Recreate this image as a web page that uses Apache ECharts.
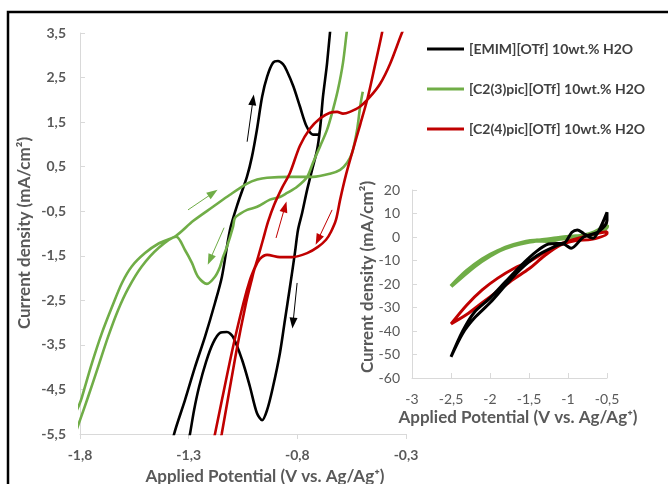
<!DOCTYPE html>
<html lang="en">
<head>
<meta charset="UTF-8">
<title>CV chart</title>
<script src="https://cdn.jsdelivr.net/npm/echarts@6/dist/echarts.min.js"></script>
<style>
  html, body { margin: 0; padding: 0; background: #fff; }
  #chart { width: 668px; height: 484px; }
</style>
</head>
<body>
<div id="chart"></div>
<script>
// series names (legend)
const names = ['[EMIM][OTf] 10wt.% H2O', '[C2(3)pic][OTf] 10wt.% H2O', '[C2(4)pic][OTf] 10wt.% H2O'];
const colors = ['#000000', '#70ad47', '#c00000'];

// main plot: potential (V), current density (mA/cm2)
const emimCV = [
  [-1.38,-5.9],[-1.367,-5.5],[-1.317,-4.74],[-1.271,-4.0],[-1.225,-3.32],[-1.179,-2.56],[-1.147,-1.97],
  [-1.110,-0.92],[-1.073,-0.31],[-1.032,0.27],[-1.009,0.72],[-0.986,1.33],[-0.962,2.07],[-0.939,2.52],
  [-0.912,2.83],[-0.889,2.87],[-0.866,2.80],[-0.849,2.66],[-0.818,2.30],[-0.788,1.85],[-0.757,1.40],
  [-0.728,1.22],[-0.705,1.22],[-0.696,1.33],[-0.682,2.07],[-0.663,2.83],[-0.636,4.25],
  [-0.663,2.83],[-0.682,2.07],[-0.696,1.33],[-0.709,0.88],[-0.732,0.43],[-0.755,-0.02],[-0.778,-0.54],
  [-0.797,-0.92],[-0.811,-1.43],[-0.834,-2.20],[-0.857,-2.94],[-0.880,-3.68],[-0.912,-4.44],[-0.939,-4.96],
  [-0.962,-5.19],[-0.986,-5.03],[-1.018,-4.44],[-1.054,-3.84],[-1.096,-3.32],[-1.124,-3.21],[-1.156,-3.23],
  [-1.188,-3.46],[-1.220,-3.88],[-1.252,-4.44],[-1.275,-4.96],[-1.294,-5.5],[-1.31,-5.9]
];
const c23picCV = [
  [-0.562,3.91],[-0.573,3.51],[-0.590,2.83],[-0.613,2.23],[-0.636,1.78],[-0.663,1.33],[-0.696,0.95],
  [-0.728,0.59],[-0.755,0.27],[-0.801,0.05],[-0.847,-0.09],[-0.880,-0.18],[-0.926,-0.24],[-0.985,-0.40],
  [-1.031,-0.47],[-1.064,-0.56],[-1.087,-0.65],[-1.096,-0.85],[-1.124,-1.30],[-1.142,-1.53],[-1.156,-1.75],
  [-1.179,-1.97],[-1.216,-2.13],[-1.257,-1.97],[-1.285,-1.66],[-1.317,-1.37],[-1.358,-1.07],
  [-1.440,-1.33],[-1.516,-1.74],[-1.578,-2.23],[-1.625,-2.72],[-1.671,-3.32],[-1.717,-4.00],[-1.763,-4.67],
  [-1.800,-5.19],[-1.837,-5.70],
  [-1.832,-5.21],[-1.800,-4.80],[-1.791,-4.67],[-1.745,-3.91],[-1.699,-3.23],[-1.653,-2.65],[-1.607,-2.11],
  [-1.562,-1.74],[-1.501,-1.44],[-1.440,-1.23],[-1.358,-1.05],
  [-1.280,-0.72],[-1.188,-0.40],[-1.110,-0.13],[-1.031,0.12],[-0.985,0.21],[-0.939,0.25],[-0.834,0.27],
  [-0.728,0.27],[-0.650,0.34],[-0.603,0.43],[-0.571,0.59],[-0.548,0.81],[-0.525,1.33],[-0.511,1.85],[-0.499,2.18]
];
const c24picCV = [
  [-1.188,-5.68],[-1.179,-5.5],[-1.102,-3.68],[-1.048,-2.56],[-1.018,-2.04],[-0.990,-1.68],[-0.958,-1.14],
  [-0.935,-0.74],[-0.907,-0.36],[-0.870,0.03],[-0.834,0.36],[-0.788,0.97],[-0.742,1.35],[-0.696,1.58],
  [-0.650,1.71],[-0.617,1.73],[-0.590,1.69],[-0.558,1.73],[-0.511,1.85],[-0.465,2.07],[-0.419,2.36],
  [-0.373,2.81],[-0.318,3.51],[-0.281,3.91],
  [-0.396,3.91],[-0.410,3.51],[-0.442,2.79],[-0.475,2.07],[-0.511,1.44],[-0.544,0.88],[-0.576,0.32],
  [-0.603,-0.24],[-0.622,-0.69],[-0.645,-0.96],[-0.668,-1.14],[-0.705,-1.30],[-0.755,-1.44],[-0.824,-1.53],
  [-0.880,-1.53],[-0.939,-1.48],[-0.972,-1.57],[-0.995,-1.77],[-1.010,-2.04],[-1.036,-2.56],[-1.082,-3.68],
  [-1.148,-5.5],[-1.158,-5.68]
];

// scan direction arrows [from, to]
const emimArrows = [[[-1.031,1.06],[-1.004,2.00]], [[-0.801,-2.11],[-0.820,-3.01]]];
const c23picArrows = [[[-1.303,-0.47],[-1.188,-0.09]], [[-1.137,-0.87],[-1.202,-1.59]]];
const c24picArrows = [[[-0.898,-1.10],[-0.857,-0.40]], [[-0.640,-0.47],[-0.705,-1.14]]];

// inset: wider potential window
const emimInset = [
  [-2.5,-51],[-2.35,-40],[-2.2,-32],[-2.0,-26],[-1.8,-19],[-1.6,-12],[-1.4,-6],[-1.25,-3],[-1.05,-2.5],
  [-0.95,2],[-0.88,3],[-0.8,1.5],[-0.68,-0.5],[-0.6,3],[-0.5,10.5],
  [-0.5,7],[-0.62,2],[-0.8,0],[-0.96,-4.8],[-1.06,-3],[-1.2,-4.5],[-1.4,-8],[-1.6,-13.5],[-1.8,-20.5],
  [-2.0,-28],[-2.2,-34.5],[-2.35,-41],[-2.5,-51]
];
const c23picInset = [
  [-2.5,-21],[-2.3,-14.5],[-2.1,-9.5],[-1.9,-6],[-1.7,-3.5],[-1.5,-2],[-1.3,-1.2],[-1.1,-0.3],[-0.9,0.3],
  [-0.7,1],[-0.5,4.5],
  [-0.5,5],[-0.7,1.5],[-0.9,0],[-1.1,-0.8],[-1.25,-1.8],[-1.4,-1.5],[-1.6,-2.5],[-1.8,-4.5],[-2.0,-8],
  [-2.2,-12.5],[-2.5,-21]
];
const c24picInset = [
  [-2.5,-37],[-2.3,-29],[-2.1,-22.5],[-1.9,-17.5],[-1.7,-13.5],[-1.5,-10.5],[-1.3,-6.5],[-1.1,-3],
  [-0.9,-0.8],[-0.7,1],[-0.5,2.2],
  [-0.5,1.5],[-0.7,-1],[-0.9,-1.5],[-1.1,-3.5],[-1.3,-8],[-1.5,-13.5],[-1.7,-18],[-1.9,-23],[-2.1,-28],
  [-2.3,-33],[-2.5,-37]
];

const FONT = 'Lato, "Open Sans", sans-serif';
const comma = v => String(+(+v).toFixed(1)).replace('.', ',');

const chart = echarts.init(document.getElementById('chart'), null, { renderer: 'canvas' });

function mainLine(i, data, arrows) {
  return {
    name: names[i], type: 'line', data: data,
    xAxisIndex: 0, yAxisIndex: 0,
    showSymbol: false, smooth: 0.3, clip: true,
    lineStyle: { color: colors[i], width: 2.6 },
    itemStyle: { color: colors[i] },
    markLine: {
      silent: true, animation: false,
      symbol: ['none', 'triangle'], symbolSize: [8, 11],
      label: { show: false },
      lineStyle: { color: colors[i], width: 1, type: 'solid' },
      data: arrows.map(a => [{ coord: a[0] }, { coord: a[1] }])
    }
  };
}
function insetLine(i, data, w) {
  return {
    name: names[i], type: 'line', data: data,
    xAxisIndex: 1, yAxisIndex: 1,
    showSymbol: false, smooth: 0.3,
    lineStyle: { color: colors[i], width: w },
    itemStyle: { color: colors[i] }
  };
}

const axisGray = '#d9d9d9';
const textGray = '#595959';

chart.setOption({
  animation: false,
  backgroundColor: '#fff',
  textStyle: { fontFamily: FONT },
  legend: {
    data: names, orient: 'vertical', left: 422, top: 34,
    icon: 'rect', itemWidth: 37, itemHeight: 3, itemGap: 20,
    textStyle: { fontFamily: FONT, fontSize: 14, fontWeight: 'bold', color: '#404040', lineHeight: 20 },
    selectedMode: false
  },
  grid: [
    { left: 80, top: 33, right: 262, bottom: 50 },
    { left: 412, top: 190, right: 61, bottom: 106 }
  ],
  xAxis: [
    {
      type: 'value', gridIndex: 0, min: -1.8, max: -0.3, interval: 0.5,
      axisLine: { onZero: false, lineStyle: { color: axisGray } },
      axisTick: { show: true, length: 5, lineStyle: { color: axisGray } },
      splitLine: { show: false },
      axisLabel: { formatter: comma, margin: 14, fontFamily: FONT, fontSize: 14, fontWeight: 'bold', color: textGray }
    },
    {
      type: 'value', gridIndex: 1, min: -3, max: -0.5, interval: 0.5,
      axisLine: { onZero: false, lineStyle: { color: axisGray } },
      axisTick: { show: true, inside: true, length: 5, lineStyle: { color: axisGray } },
      splitLine: { show: false },
      axisLabel: { formatter: comma, margin: 14, fontFamily: FONT, fontSize: 14, color: textGray }
    }
  ],
  yAxis: [
    {
      type: 'value', gridIndex: 0, min: -5.5, max: 3.5, interval: 1,
      axisLine: { show: true, onZero: false, lineStyle: { color: axisGray } },
      axisTick: { show: true, inside: true, length: 5, lineStyle: { color: axisGray } },
      splitLine: { show: false },
      axisLabel: { formatter: comma, margin: 14, fontFamily: FONT, fontSize: 14, fontWeight: 'bold', color: textGray }
    },
    {
      type: 'value', gridIndex: 1, min: -60, max: 20, interval: 10,
      axisLine: { show: true, onZero: false, lineStyle: { color: axisGray } },
      axisTick: { show: true, inside: true, length: 5, lineStyle: { color: axisGray } },
      splitLine: { show: false },
      axisLabel: { margin: 12, fontFamily: FONT, fontSize: 14, color: textGray }
    }
  ],
  series: [
    mainLine(0, emimCV, emimArrows),
    mainLine(1, c23picCV, c23picArrows),
    mainLine(2, c24picCV, c24picArrows),
    insetLine(1, c23picInset, 4),
    insetLine(2, c24picInset, 3),
    insetLine(0, emimInset, 3)
  ],
  graphic: [
    { type: 'polyline', silent: true, shape: { points: [[8, 484], [8, 12], [668, 12]] },
      style: { stroke: '#000', lineWidth: 2.5, fill: null } },
    { type: 'text', x: 25, y: 233, rotation: Math.PI / 2, silent: true,
      style: { text: 'Current density (mA/cm²)', font: 'bold 17px ' + FONT, fill: textGray, align: 'center', verticalAlign: 'middle' } },
    { type: 'text', x: 265, y: 477, silent: true,
      style: { text: 'Applied Potential (V vs. Ag/Ag⁺)', font: 'bold 17px ' + FONT, fill: textGray, align: 'center', verticalAlign: 'middle' } },
    { type: 'text', x: 368, y: 277, rotation: Math.PI / 2, silent: true,
      style: { text: 'Current density (mA/cm²)', font: 'bold 17px ' + FONT, fill: textGray, align: 'center', verticalAlign: 'middle' } },
    { type: 'text', x: 518, y: 418, silent: true,
      style: { text: 'Applied Potential (V vs. Ag/Ag⁺)', font: 'bold 17px ' + FONT, fill: textGray, align: 'center', verticalAlign: 'middle' } }
  ]
});
</script>
</body>
</html>
